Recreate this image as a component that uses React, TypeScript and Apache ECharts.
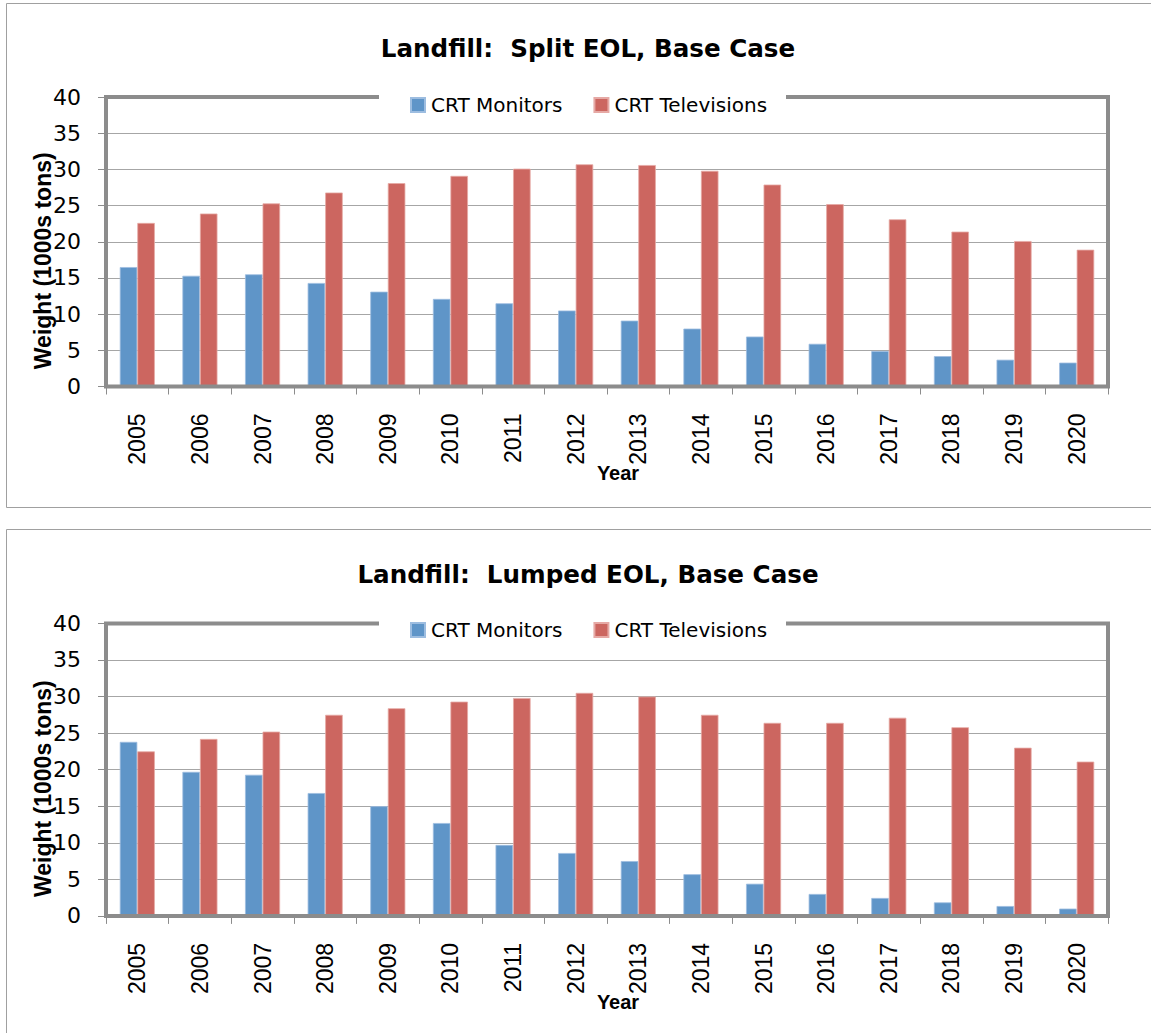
import React, { useEffect, useRef } from "react";
import * as echarts from "echarts";

const years = ["2005", "2006", "2007", "2008", "2009", "2010", "2011", "2012", "2013", "2014", "2015", "2016", "2017", "2018", "2019", "2020"];
const seriesNames = ["CRT Monitors", "CRT Televisions"];
const titles = ["Landfill:  Split EOL, Base Case", "Landfill:  Lumped EOL, Base Case"];
const splitMonitors = [16.5, 15.3, 15.5, 14.3, 13.1, 12.1, 11.5, 10.5, 9.1, 8.0, 6.9, 5.9, 4.9, 4.2, 3.7, 3.3];
const splitTVs = [22.6, 23.9, 25.3, 26.8, 28.1, 29.1, 30.1, 30.7, 30.6, 29.8, 27.9, 25.2, 23.1, 21.4, 20.1, 18.9];
const lumpedMonitors = [23.8, 19.7, 19.3, 16.8, 15.0, 12.7, 9.7, 8.6, 7.5, 5.7, 4.4, 3.0, 2.45, 1.85, 1.35, 1.0];
const lumpedTVs = [22.5, 24.2, 25.2, 27.5, 28.4, 29.3, 29.8, 30.5, 30.0, 27.5, 26.4, 26.4, 27.1, 25.8, 23.0, 21.1];
const yMin = 0;
const yMax = 40;
const yStep = 5;

const WIDE = "'DejaVu Sans', sans-serif";
const LIB = "'Liberation Sans', Arial, sans-serif";
const BLUE = "#5f95c8";
const RED = "#cc6660";
const FRAME = "#8c8c8c";

export default function App() {
  const ref = useRef<HTMLDivElement>(null);
  useEffect(() => {
    if (!ref.current) return;
    const chart = echarts.init(ref.current, null, { renderer: "svg" });
    const panels = [
      { gridTop: 97, gridH: 289.5, titleY: 48, legendY: 105, panelTop: 3.5, panelH: 504, data: [splitMonitors, splitTVs] },
      { gridTop: 623.4, gridH: 292.5, titleY: 574, legendY: 630, panelTop: 529.5, panelH: 520, data: [lumpedMonitors, lumpedTVs] },
    ];
    const option: any = {
      animation: false,
      backgroundColor: "#ffffff",
      title: panels.map((p, i) => ({
        text: titles[i],
        left: 583,
        top: p.titleY - 20,
        textAlign: "center",
        textStyle: { fontFamily: WIDE, fontWeight: "bold", fontSize: 24.6, color: "#000", lineHeight: 30 },
      })),
      legend: panels.map((p) => ({
        data: seriesNames,
        left: 410,
        top: p.legendY - 10,
        padding: 0,
        itemWidth: 14,
        itemHeight: 14,
        itemGap: 31,
        icon: "rect",
        z: 11,
        textStyle: { fontFamily: WIDE, fontSize: 20, color: "#000", lineHeight: 20, padding: [0, 0, 0, 1] },
      })),
      grid: panels.map((p) => ({
        left: 106,
        right: 43,
        top: p.gridTop,
        height: p.gridH,
        show: true,
        borderColor: FRAME,
        borderWidth: 4,
        backgroundColor: "transparent",
        z: 5,
      })),
      xAxis: panels.map((p, i) => ({
        gridIndex: i,
        type: "category",
        data: years,
        axisLine: { show: false },
        axisTick: { show: true, length: 8, lineStyle: { color: FRAME, width: 1 } },
        axisLabel: { rotate: 90, margin: 27, fontFamily: LIB, fontSize: 23, color: "#000" },
        name: "Year",
        nameLocation: "middle",
        nameGap: 76,
        nameMoveOverlap: false,
        nameTextStyle: { fontFamily: LIB, fontWeight: "bold", fontSize: 20, color: "#000", padding: [0, 0, 0, 22] },
      })),
      yAxis: panels.map((p, i) => ({
        gridIndex: i,
        type: "value",
        min: yMin,
        max: yMax,
        interval: yStep,
        axisLine: { show: false },
        axisTick: { show: true, length: 8, lineStyle: { color: FRAME, width: 1 } },
        axisLabel: { margin: 25, fontFamily: WIDE, fontSize: 22, color: "#000" },
        splitLine: { show: true, lineStyle: { color: "#a6a6a6", width: 1 } },
        name: "Weight (1000s tons)",
        nameLocation: "middle",
        nameRotate: 90,
        nameGap: 52,
        nameMoveOverlap: false,
        nameTextStyle: { fontFamily: LIB, fontWeight: "bold", fontSize: 23, color: "#000", padding: [0, 38, 0, 0] },
      })),
      series: panels.flatMap((p, i) => [
        {
          id: "m" + i,
          name: seriesNames[0],
          type: "bar",
          xAxisIndex: i,
          yAxisIndex: i,
          data: p.data[0],
          barGap: "0%",
          barCategoryGap: "44%",
          itemStyle: { color: BLUE, borderColor: "#9dbde0", borderWidth: 0.8 },
        },
        {
          id: "t" + i,
          name: seriesNames[1],
          type: "bar",
          xAxisIndex: i,
          yAxisIndex: i,
          data: p.data[1],
          barGap: "0%",
          barCategoryGap: "44%",
          itemStyle: { color: RED, borderColor: "#e6a9a5", borderWidth: 0.8 },
        },
      ]),
      graphic: panels.flatMap((p) => [
        {
          type: "rect",
          z: 10,
          shape: { x: 379, y: p.gridTop - 4, width: 407, height: 8 },
          style: { fill: "#ffffff" },
          silent: true,
        },
        {
          type: "rect",
          z: 0,
          shape: { x: 6.5, y: p.panelTop, width: 1170, height: p.panelH },
          style: { fill: "none", stroke: "#a0a0a0", lineWidth: 1 },
          silent: true,
        },
      ]),
    };
    chart.setOption(option);
    return () => chart.dispose();
  }, []);
  return (
    <div
      ref={ref}
      style={{ position: "absolute", left: 0, top: 0, width: 1151, height: 1033, overflow: "hidden" }}
    />
  );
}
